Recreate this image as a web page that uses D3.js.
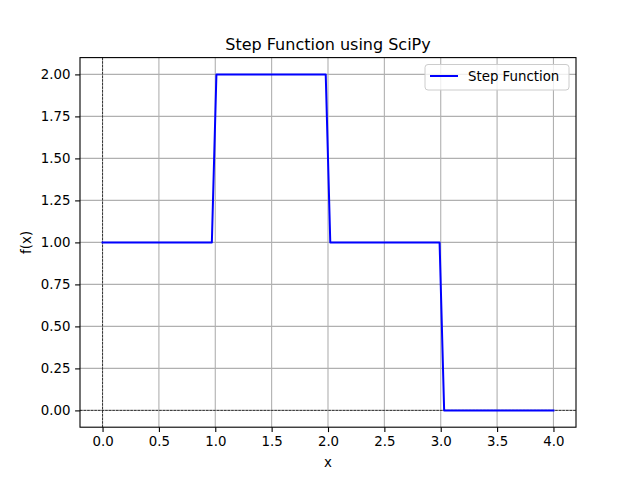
<!DOCTYPE html>
<html><head><meta charset="utf-8">
<script src="https://cdn.jsdelivr.net/npm/d3@7"></script>
<style>body{margin:0;background:#fff}svg{display:block}text{font-family:"DejaVu Sans",sans-serif;fill:#000}</style>
</head><body><svg id="c" width="640" height="480"></svg>
<script>
const xVals = [0, 0.9697, 1.0101, 1.9798, 2.0202, 2.9899, 3.0303, 4];
const yVals = [1, 1, 2, 2, 1, 1, 0, 0];
const xTicks = [0.0, 0.5, 1.0, 1.5, 2.0, 2.5, 3.0, 3.5, 4.0];
const yTicks = [0.00, 0.25, 0.50, 0.75, 1.00, 1.25, 1.50, 1.75, 2.00];
const title = "Step Function using SciPy";
const seriesName = "Step Function";

const svg = d3.select("#c");
const L = 80, R = 576, T = 57.6, B = 427.2;
const x = d3.scaleLinear().domain([-0.2, 4.2]).range([L, R]);
const y = d3.scaleLinear().domain([-0.1, 2.1]).range([B, T]);

// grid
const g = svg.append("g");
g.selectAll(".gx").data(xTicks).enter().append("line")
  .attr("x1", d => x(d)).attr("x2", d => x(d)).attr("y1", T).attr("y2", B)
  .attr("stroke", "#b0b0b0").attr("stroke-width", 1.1);
g.selectAll(".gy").data(yTicks).enter().append("line")
  .attr("y1", d => y(d)).attr("y2", d => y(d)).attr("x1", L).attr("x2", R)
  .attr("stroke", "#b0b0b0").attr("stroke-width", 1.1);

// dashed zero lines
svg.append("line").attr("x1", L).attr("x2", R).attr("y1", y(0)).attr("y2", y(0))
  .attr("stroke", "#000").attr("stroke-width", 0.7).attr("stroke-dasharray", "2.5,1.1");
svg.append("line").attr("x1", x(0)).attr("x2", x(0)).attr("y1", T).attr("y2", B)
  .attr("stroke", "#000").attr("stroke-width", 0.7).attr("stroke-dasharray", "2.5,1.1");

// line
const pts = xVals.map((v, i) => [v, yVals[i]]);
svg.append("path").datum(pts)
  .attr("d", d3.line().x(d => x(d[0])).y(d => y(d[1])))
  .attr("fill", "none").attr("stroke", "#0000ff").attr("stroke-width", 2)
  .attr("stroke-linejoin", "round").attr("stroke-linecap", "square");

// axes
const xa = svg.append("g").attr("transform", `translate(0,${B})`)
  .call(d3.axisBottom(x).tickValues(xTicks).tickFormat(d3.format(".1f")).tickSizeInner(4.9).tickSizeOuter(0).tickPadding(4.7));
const ya = svg.append("g").attr("transform", `translate(${L},0)`)
  .call(d3.axisLeft(y).tickValues(yTicks).tickFormat(d3.format(".2f")).tickSizeInner(4.9).tickSizeOuter(0).tickPadding(4.7));
[xa, ya].forEach(a => {
  a.select(".domain").remove();
  a.selectAll("line").attr("stroke", "#000").attr("stroke-width", 1.1);
  a.selectAll("text").attr("font-size", "13.33px").attr("font-family", "DejaVu Sans").attr("fill", "#000");
});

// frame
svg.append("rect").attr("x", L).attr("y", T).attr("width", R - L).attr("height", B - T)
  .attr("fill", "none").attr("stroke", "#000").attr("stroke-width", 1.1);

// labels
svg.append("text").attr("x", (L + R) / 2).attr("y", 49.5).attr("text-anchor", "middle")
  .attr("font-size", "16px").text(title);
svg.append("text").attr("x", (L + R) / 2).attr("y", 467).attr("text-anchor", "middle")
  .attr("font-size", "13.33px").text("x");
svg.append("text").attr("transform", `translate(31,${(T + B) / 2}) rotate(-90)`).attr("text-anchor", "middle")
  .attr("font-size", "13.33px").text("f(x)");

// legend
const lg = svg.append("g");
lg.append("rect").attr("x", 425).attr("y", 64.5).attr("width", 144).attr("height", 25.5)
  .attr("rx", 3).attr("fill", "#fff").attr("fill-opacity", 0.8).attr("stroke", "#cccccc").attr("stroke-width", 1);
lg.append("line").attr("x1", 430).attr("x2", 458).attr("y1", 76).attr("y2", 76)
  .attr("stroke", "#0000ff").attr("stroke-width", 2);
lg.append("text").attr("x", 468).attr("y", 81).attr("font-size", "13.33px").text(seriesName);
</script></body></html>
